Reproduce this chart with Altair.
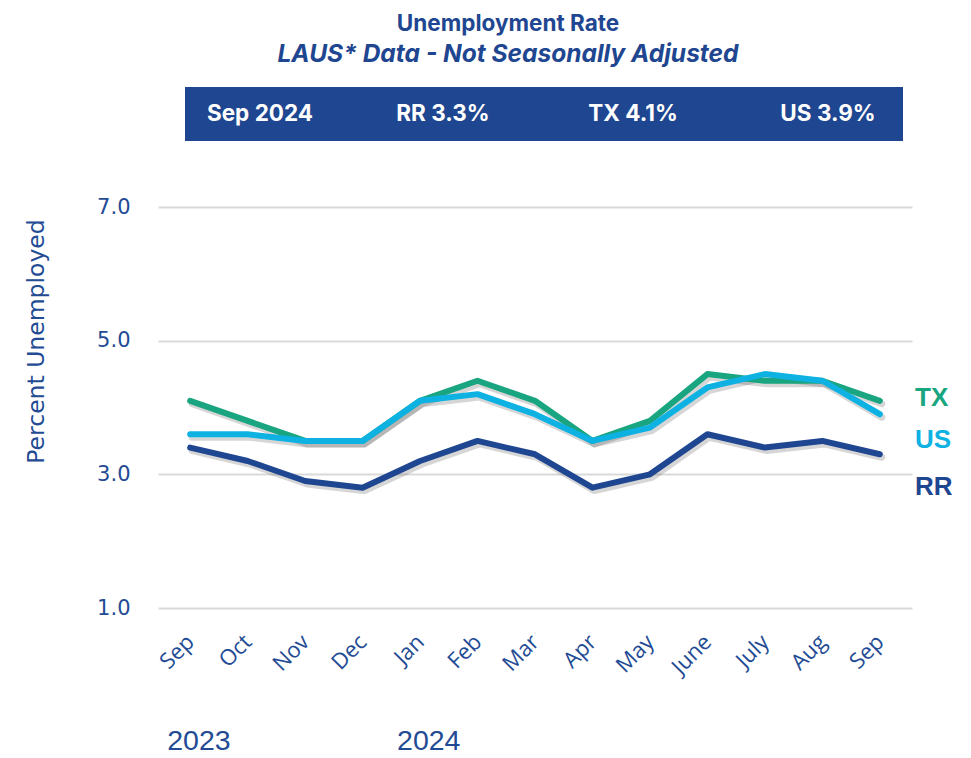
import json
import altair as alt
import pandas as pd

months = ["Sep", "Oct", "Nov", "Dec", "Jan", "Feb", "Mar", "Apr", "May", "June", "July", "Aug", "Sep"]
tx = [4.1, 3.8, 3.5, 3.5, 4.1, 4.4, 4.1, 3.5, 3.8, 4.5, 4.4, 4.4, 4.1]
us = [3.6, 3.6, 3.5, 3.5, 4.1, 4.2, 3.9, 3.5, 3.7, 4.3, 4.5, 4.4, 3.9]
rr = [3.4, 3.2, 2.9, 2.8, 3.2, 3.5, 3.3, 2.8, 3.0, 3.6, 3.4, 3.5, 3.3]
series = ["RR", "TX", "US"]
colors = ["#1f4690", "#18a57f", "#0db2e3"]
years = ["2023", "2024"]
year_idx = [0, 4]
y_ticks = [1, 3, 5, 7]

TEXT = "#234b94"
BANNER = "#1f4690"

rows = []
for name, vals in [("RR", rr), ("TX", tx), ("US", us)]:
    for i, v in enumerate(vals):
        rows.append({"i": i, "series": name, "value": v})
df = pd.DataFrame(rows)

label_expr = json.dumps(months) + "[datum.value]"

x_enc = alt.X(
    "i:O",
    scale=alt.Scale(type="point", padding=0.56),
    axis=alt.Axis(
        title=None, labelExpr=label_expr, labelAngle=-45, labelAlign="right",
        labelBaseline="middle", labelPadding=30, labelFontSize=22,
        labelFont="Open Sans", labelColor=TEXT, domain=False, ticks=False, grid=False,
    ),
)
y_enc = alt.Y(
    "value:Q",
    scale=alt.Scale(domain=[1, 7], nice=False, zero=False),
    axis=alt.Axis(
        values=y_ticks, format=".1f", title="Percent Unemployed",
        titleFont="DejaVu Sans", titleFontWeight="normal", titleFontSize=23.5,
        titleColor=TEXT, titleAngle=-90, titleX=-122, titleY=134,
        titleAlign="center", titleBaseline="middle",
        labelFont="DejaVu Sans", labelFontSize=21, labelColor=TEXT, labelPadding=28,
        domain=False, ticks=False, grid=True, gridColor="#d9d9d9", gridWidth=2,
    ),
)

base = alt.Chart(df)

shadow = base.mark_line(
    strokeWidth=7, strokeCap="round", strokeJoin="round",
    color="#444444", opacity=0.22, xOffset=2, yOffset=3,
).encode(x=x_enc, y=y_enc, detail="series:N")

lines = base.mark_line(strokeWidth=6, strokeCap="round", strokeJoin="round").encode(
    x=x_enc, y=y_enc,
    color=alt.Color("series:N", scale=alt.Scale(domain=series, range=colors), legend=None),
    order=alt.Order("series:N"),
)

# Title texts
title_df = pd.DataFrame({"t": ["Unemployment Rate"]})
sub_df = pd.DataFrame({"t": ["LAUS* Data - Not Seasonally Adjusted"]})
title = alt.Chart(title_df).mark_text(
    font="Inter", fontWeight="bold", fontSize=22.5, color=BANNER, align="center", baseline="alphabetic"
).encode(text="t:N", x=alt.value(350), y=alt.value(-176))
subtitle = alt.Chart(sub_df).mark_text(
    font="Inter", fontWeight="bold", fontStyle="italic", fontSize=24.5, color=BANNER,
    align="center", baseline="alphabetic"
).encode(text="t:N", x=alt.value(350), y=alt.value(-145))

# Banner
banner_df = pd.DataFrame({"t": [""]})
banner = alt.Chart(banner_df).mark_rect(color=BANNER).encode(
    x=alt.value(27), x2=alt.value(745), y=alt.value(-120), y2=alt.value(-66)
)
banner_texts = [
    "Sep 2024",
    f"RR {rr[-1]:.1f}%",
    f"TX {tx[-1]:.1f}%",
    f"US {us[-1]:.1f}%",
]
banner_x = [102, 285, 475, 670]
banner_layers = []
for t, bx in zip(banner_texts, banner_x):
    banner_layers.append(
        alt.Chart(pd.DataFrame({"t": [t]})).mark_text(
            font="Inter", fontWeight="bold", fontSize=22.5, color="white",
            align="center", baseline="middle"
        ).encode(text="t:N", x=alt.value(bx), y=alt.value(-93))
    )

# Series labels at right
label_y = {"TX": 191, "US": 233, "RR": 280}
series_layers = []
for name, col in zip(series, colors):
    series_layers.append(
        alt.Chart(pd.DataFrame({"t": [name]})).mark_text(
            font="Liberation Sans", fontWeight="bold", fontSize=26, color=col,
            align="left", baseline="middle"
        ).encode(text="t:N", x=alt.value(757), y=alt.value(label_y[name]))
    )

# Year labels
year_df = pd.DataFrame({"t": years, "i": year_idx})
year_text = alt.Chart(year_df).mark_text(
    font="Liberation Sans", fontSize=28.5, color=TEXT, align="left", baseline="alphabetic", dx=-23
).encode(text="t:N", x=alt.X("i:O", scale=alt.Scale(type="point", padding=0.56)), y=alt.value(543))

chart = alt.layer(
    shadow, lines, title, subtitle, banner, *banner_layers, *series_layers, year_text
).properties(
    width=754, height=401,
    autosize=alt.AutoSizeParams(type="none"),
    padding={"left": 150, "top": 199, "right": 51, "bottom": 150},
).configure_view(stroke=None)

chart.save("out.html", embed_options={"renderer": "svg", "actions": False})
